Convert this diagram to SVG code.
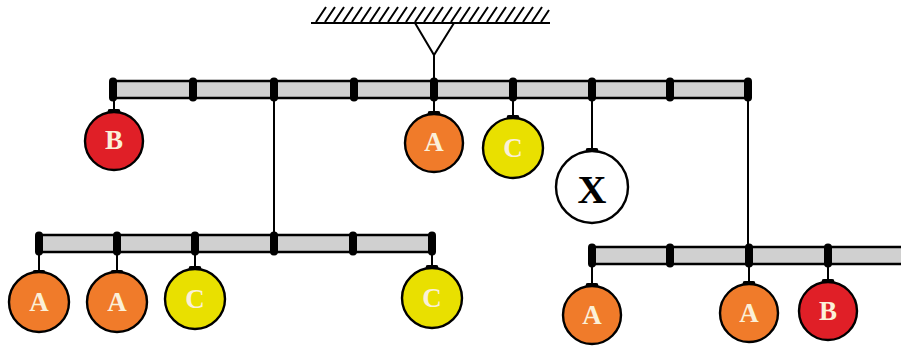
<svg xmlns="http://www.w3.org/2000/svg" width="901" height="347" viewBox="0 0 901 347">
<style>
.bar{fill:#d0d0d0;stroke:#000;stroke-width:2.5}
.jt{fill:#000}
.ln{stroke:#000;stroke-width:2;fill:none}
.ball{stroke:#000;stroke-width:2.4}
.a{fill:#f07b2a}.b{fill:#e01f27}.c{fill:#e9e000}.x{fill:#fff}
.lbl{font-family:"Liberation Serif","Times New Roman",serif;font-weight:bold;font-size:27px;fill:#fbf0d8;text-anchor:middle}
.lx{font-family:"Liberation Serif","Times New Roman",serif;font-weight:bold;font-size:40px;fill:#000;text-anchor:middle}
</style>
<defs>
<rect id="j" x="-4" y="-12" width="8" height="24" rx="4" class="jt"/>
<path id="cap" d="M-7 3 L-6 -2 Q-6 -3 -4 -3 L4 -3 Q6 -3 6 -2 L7 3 Z" class="jt"/>
</defs>
<g id="ceiling">
<line class="ln" x1="311" y1="23" x2="550" y2="23" stroke-width="2.5"/>
<path class="ln" stroke-width="1.8" d="M316 22 l10 -15 M325 22 l10 -15 M334 22 l10 -15 M343 22 l10 -15 M352 22 l10 -15 M361 22 l10 -15 M370 22 l10 -15 M379 22 l10 -15 M388 22 l10 -15 M397 22 l10 -15 M406 22 l10 -15 M415 22 l10 -15 M424 22 l10 -15 M433 22 l10 -15 M442 22 l10 -15 M451 22 l10 -15 M460 22 l10 -15 M469 22 l10 -15 M478 22 l10 -15 M487 22 l10 -15 M496 22 l10 -15 M505 22 l10 -15 M514 22 l10 -15 M523 22 l10 -15 M532 22 l10 -15 M541 22 l8 -12"/>
<path class="ln" d="M415 23 L434 55 L454 23"/>
</g>
<g id="connectors">
<line class="ln" x1="434" y1="55" x2="434" y2="82"/>
<line class="ln" x1="274" y1="98" x2="274" y2="236"/>
<line class="ln" x1="748" y1="98" x2="748" y2="248"/>
<line class="ln" x1="114" y1="98" x2="114" y2="110"/>
<line class="ln" x1="434" y1="98" x2="434" y2="112"/>
<line class="ln" x1="513" y1="98" x2="513" y2="116"/>
<line class="ln" x1="592" y1="98" x2="592" y2="149"/>
<line class="ln" x1="39" y1="252" x2="39" y2="271"/>
<line class="ln" x1="117" y1="252" x2="117" y2="271"/>
<line class="ln" x1="195" y1="252" x2="195" y2="267"/>
<line class="ln" x1="432" y1="252" x2="432" y2="266"/>
<line class="ln" x1="592" y1="264" x2="592" y2="284"/>
<line class="ln" x1="749" y1="264" x2="749" y2="282"/>
<line class="ln" x1="828" y1="264" x2="828" y2="280"/>
</g>
<g id="bar-top">
<rect class="bar" x="113" y="81" width="635" height="17"/>
<use href="#j" x="113" y="89.5"/><use href="#j" x="193" y="89.5"/><use href="#j" x="274" y="89.5"/>
<use href="#j" x="354" y="89.5"/><use href="#j" x="434" y="89.5"/><use href="#j" x="513" y="89.5"/>
<use href="#j" x="592" y="89.5"/><use href="#j" x="670" y="89.5"/><use href="#j" x="748" y="89.5"/>
</g>
<g id="bar-left">
<rect class="bar" x="39" y="235" width="393" height="17"/>
<use href="#j" x="39" y="243.5"/><use href="#j" x="117" y="243.5"/><use href="#j" x="195" y="243.5"/>
<use href="#j" x="274" y="243.5"/><use href="#j" x="353" y="243.5"/><use href="#j" x="432" y="243.5"/>
</g>
<g id="bar-right">
<rect class="bar" x="592" y="247" width="312" height="17"/>
<use href="#j" x="592" y="255.5"/><use href="#j" x="670" y="255.5"/><use href="#j" x="749" y="255.5"/><use href="#j" x="828" y="255.5"/>
</g>
<g id="ball-b1"><use href="#cap" x="114" y="112"/><circle class="ball b" cx="114" cy="141" r="29"/><text class="lbl" x="114" y="149">B</text></g>
<g id="ball-a1"><use href="#cap" x="434" y="114"/><circle class="ball a" cx="434" cy="143" r="29"/><text class="lbl" x="434" y="151">A</text></g>
<g id="ball-c1"><use href="#cap" x="513" y="118"/><circle class="ball c" cx="513" cy="148" r="30"/><text class="lbl" x="513" y="157">C</text></g>
<g id="ball-x"><use href="#cap" x="592" y="151"/><circle class="ball x" cx="592" cy="187" r="36"/><text class="lx" x="592" y="203">X</text></g>
<g id="ball-a2"><use href="#cap" x="39" y="273"/><circle class="ball a" cx="39" cy="302" r="30"/><text class="lbl" x="39" y="311">A</text></g>
<g id="ball-a3"><use href="#cap" x="117" y="273"/><circle class="ball a" cx="117" cy="302" r="30"/><text class="lbl" x="117" y="311">A</text></g>
<g id="ball-c2"><use href="#cap" x="195" y="269"/><circle class="ball c" cx="195" cy="299" r="30"/><text class="lbl" x="195" y="308">C</text></g>
<g id="ball-c3"><use href="#cap" x="432" y="268"/><circle class="ball c" cx="432" cy="298" r="30"/><text class="lbl" x="432" y="307">C</text></g>
<g id="ball-a4"><use href="#cap" x="592" y="286"/><circle class="ball a" cx="592" cy="315" r="29"/><text class="lbl" x="592" y="324">A</text></g>
<g id="ball-a5"><use href="#cap" x="749" y="284"/><circle class="ball a" cx="749" cy="313" r="29"/><text class="lbl" x="749" y="322">A</text></g>
<g id="ball-b2"><use href="#cap" x="828" y="282"/><circle class="ball b" cx="828" cy="311" r="29"/><text class="lbl" x="828" y="320">B</text></g>
</svg>
